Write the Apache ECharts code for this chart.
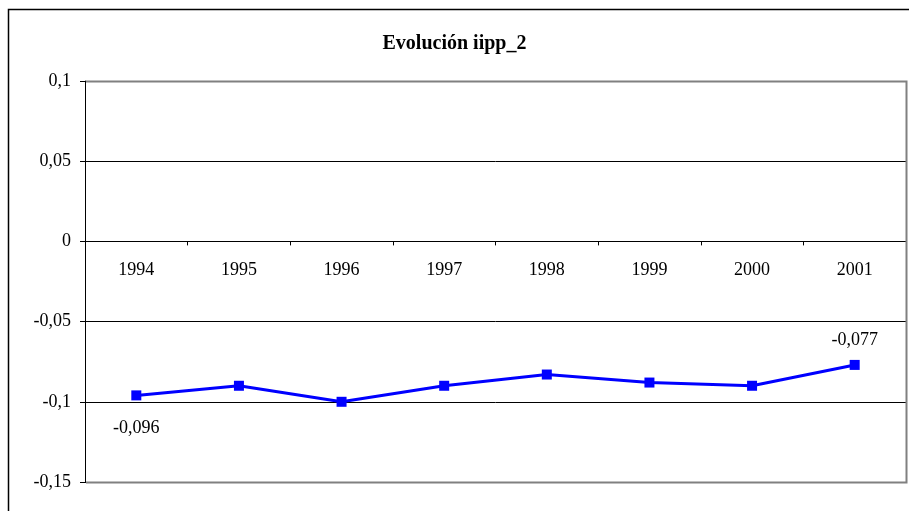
<!DOCTYPE html>
<html>
<head>
<meta charset="utf-8">
<script src="https://cdn.jsdelivr.net/npm/echarts@6/dist/echarts.min.js"></script>
<style>
  html, body { margin: 0; padding: 0; background: #fff; }
  #main { width: 909px; height: 511px; }
</style>
</head>
<body>
<div id="main"></div>
<script>
// datos del gráfico
const years = ['1994', '1995', '1996', '1997', '1998', '1999', '2000', '2001']
const iipp2 = [-0.096, -0.090, -0.100, -0.090, -0.083, -0.088, -0.090, -0.077]
const yTicks = [-0.15, -0.1, -0.05, 0, 0.05, 0.1]

const serif = 'Liberation Serif, Times New Roman, serif'

function coma(v) {
    return String(+Number(v).toFixed(3)).replace('.', ',')
}

let myChart = echarts.init(document.querySelector('#main'))

const gridTop = 81
const gridBottom = 29
// el eje de categorías cruza en 0: se sube desde el borde inferior
const zeroOffset = -(511 - gridBottom - gridTop) * (0 - yTicks[0]) / (yTicks[yTicks.length - 1] - yTicks[0])

const option = {
    animation: false,
    backgroundColor: '#fff',
    title: {
        text: 'Evolución iipp_2',
        left: 'center',
        top: 29,
        textStyle: {
            fontFamily: serif,
            fontSize: 20,
            fontWeight: 'bold',
            color: '#000'
        }
    },
    grid: {
        left: 85,
        right: 3,
        top: gridTop,
        bottom: gridBottom,
        outerBoundsMode: 'none',
        containLabel: false
    },
    xAxis: {
        type: 'category',
        data: years,
        boundaryGap: true,
        position: 'bottom',
        offset: zeroOffset,
        axisLine: { onZero: false, lineStyle: { color: '#000', width: 1 } },
        axisTick: { show: true, inside: false, length: 4, lineStyle: { color: '#000' } },
        axisLabel: {
            margin: 20,
            fontFamily: serif,
            fontSize: 18,
            color: '#000'
        },
        splitLine: { show: false }
    },
    yAxis: {
        type: 'value',
        min: yTicks[0],
        max: yTicks[yTicks.length - 1],
        interval: 0.05,
        axisLine: { show: true, lineStyle: { color: '#000', width: 1 } },
        axisTick: { show: true, length: 5, lineStyle: { color: '#000' } },
        axisLabel: {
            margin: 14,
            fontFamily: serif,
            fontSize: 18,
            color: '#000',
            formatter: function (v) { return coma(v) }
        },
        splitLine: { show: true, lineStyle: { color: '#000', width: 1 } }
    },
    series: [{
        type: 'line',
        data: iipp2.map(function (v, i) {
            const item = { value: v }
            if (i === 0) {
                item.label = { show: true, position: 'bottom', distance: 19 }
            } else if (i === iipp2.length - 1) {
                item.label = { show: true, position: 'top', distance: 11 }
            }
            return item
        }),
        symbol: 'rect',
        symbolSize: 10,
        lineStyle: { color: '#0000ff', width: 3 },
        itemStyle: { color: '#0000ff' },
        label: {
            show: false,
            fontFamily: serif,
            fontSize: 18,
            color: '#000',
            formatter: function (p) { return coma(p.value) }
        }
    }],
    // marco del gráfico y borde gris del área de trazado
    graphic: [
        {
            type: 'rect', z: 100, silent: true,
            shape: { x: 8.5, y: 9.5, width: 950, height: 550 },
            style: { fill: 'none', stroke: '#000', lineWidth: 1.5 }
        },
        {
            type: 'polyline', z: 100, silent: true,
            shape: { points: [[86, 81.5], [906.5, 81.5], [906.5, 482.5], [86, 482.5]] },
            style: { fill: 'none', stroke: '#808080', lineWidth: 2 }
        }
    ]
}

myChart.setOption(option)
</script>
</body>
</html>
